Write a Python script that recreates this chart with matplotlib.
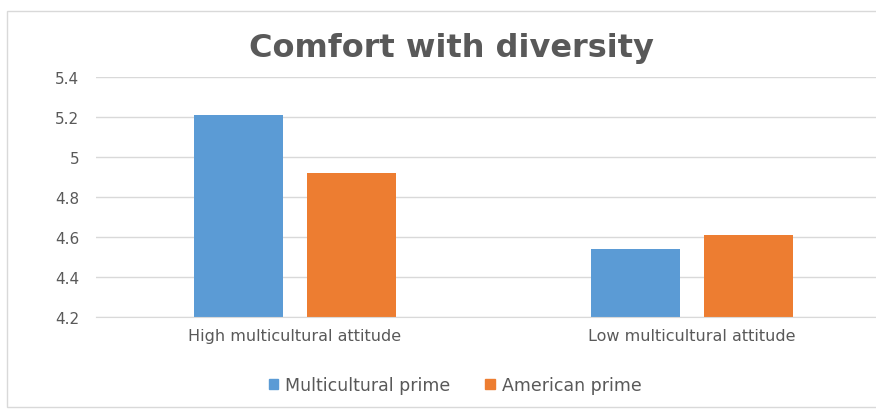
import matplotlib
matplotlib.use("Agg")
import matplotlib.pyplot as plt
import numpy as np
from matplotlib.patches import Rectangle, Patch

categories = ["High multicultural attitude", "Low multicultural attitude"]
series_names = ["Multicultural prime", "American prime"]
multicultural = [5.21, 4.54]
american = [4.92, 4.61]
yticks = [4.2, 4.4, 4.6, 4.8, 5.0, 5.2, 5.4]
ytick_labels = ["4.2", "4.4", "4.6", "4.8", "5", "5.2", "5.4"]

blue = "#5B9BD5"
orange = "#ED7D31"
grey = "#595959"

plt.rcParams["font.family"] = ["DejaVu Sans"]

fig = plt.figure(figsize=(8.76, 4.10), dpi=100)
fig.patches.append(Rectangle((7 / 876, 2 / 410), 1.2, 396 / 410, transform=fig.transFigure,
                             facecolor="white", edgecolor="#D9D9D9", lw=1, zorder=-5))

ax = fig.add_axes([96 / 876, 92 / 410, 795 / 876, 240 / 410])
ax.set_facecolor("none")

x = np.arange(len(categories))
w = 0.223
off = 0.142
ax.bar(x - off, [v - 4.2 for v in multicultural], w, bottom=4.2, color=blue, zorder=2)
ax.bar(x + off, [v - 4.2 for v in american], w, bottom=4.2, color=orange, zorder=2)

ax.set_xlim(-0.5, 1.5)
ax.set_ylim(4.2, 5.4)
ax.set_yticks(yticks)
ax.set_yticklabels(ytick_labels)
ax.set_xticks(x)
ax.set_xticklabels(categories)
ax.yaxis.grid(True, color="#D9D9D9", lw=1, zorder=0)
ax.set_axisbelow(True)
for s in ax.spines.values():
    s.set_visible(False)
ax.spines["bottom"].set_visible(True)
ax.spines["bottom"].set_color("#D9D9D9")
ax.tick_params(axis="both", length=0, colors=grey, labelsize=11)
ax.tick_params(axis="x", labelsize=11.5, pad=8)
ax.tick_params(axis="y", pad=12)

fig.text(451 / 876, 362 / 410, "Comfort with diversity", ha="center", va="center",
         fontsize=23, fontweight="bold", color=grey)

handles = [Patch(color=blue), Patch(color=orange)]
fig.legend(handles, series_names, loc="center", bbox_to_anchor=(455 / 876, 24 / 410),
           ncol=2, frameon=False, fontsize=12.5, labelcolor=grey, handlelength=0.55,
           handleheight=0.55, columnspacing=2.0, handletextpad=0.4)

fig.savefig("out.png", dpi=100)
